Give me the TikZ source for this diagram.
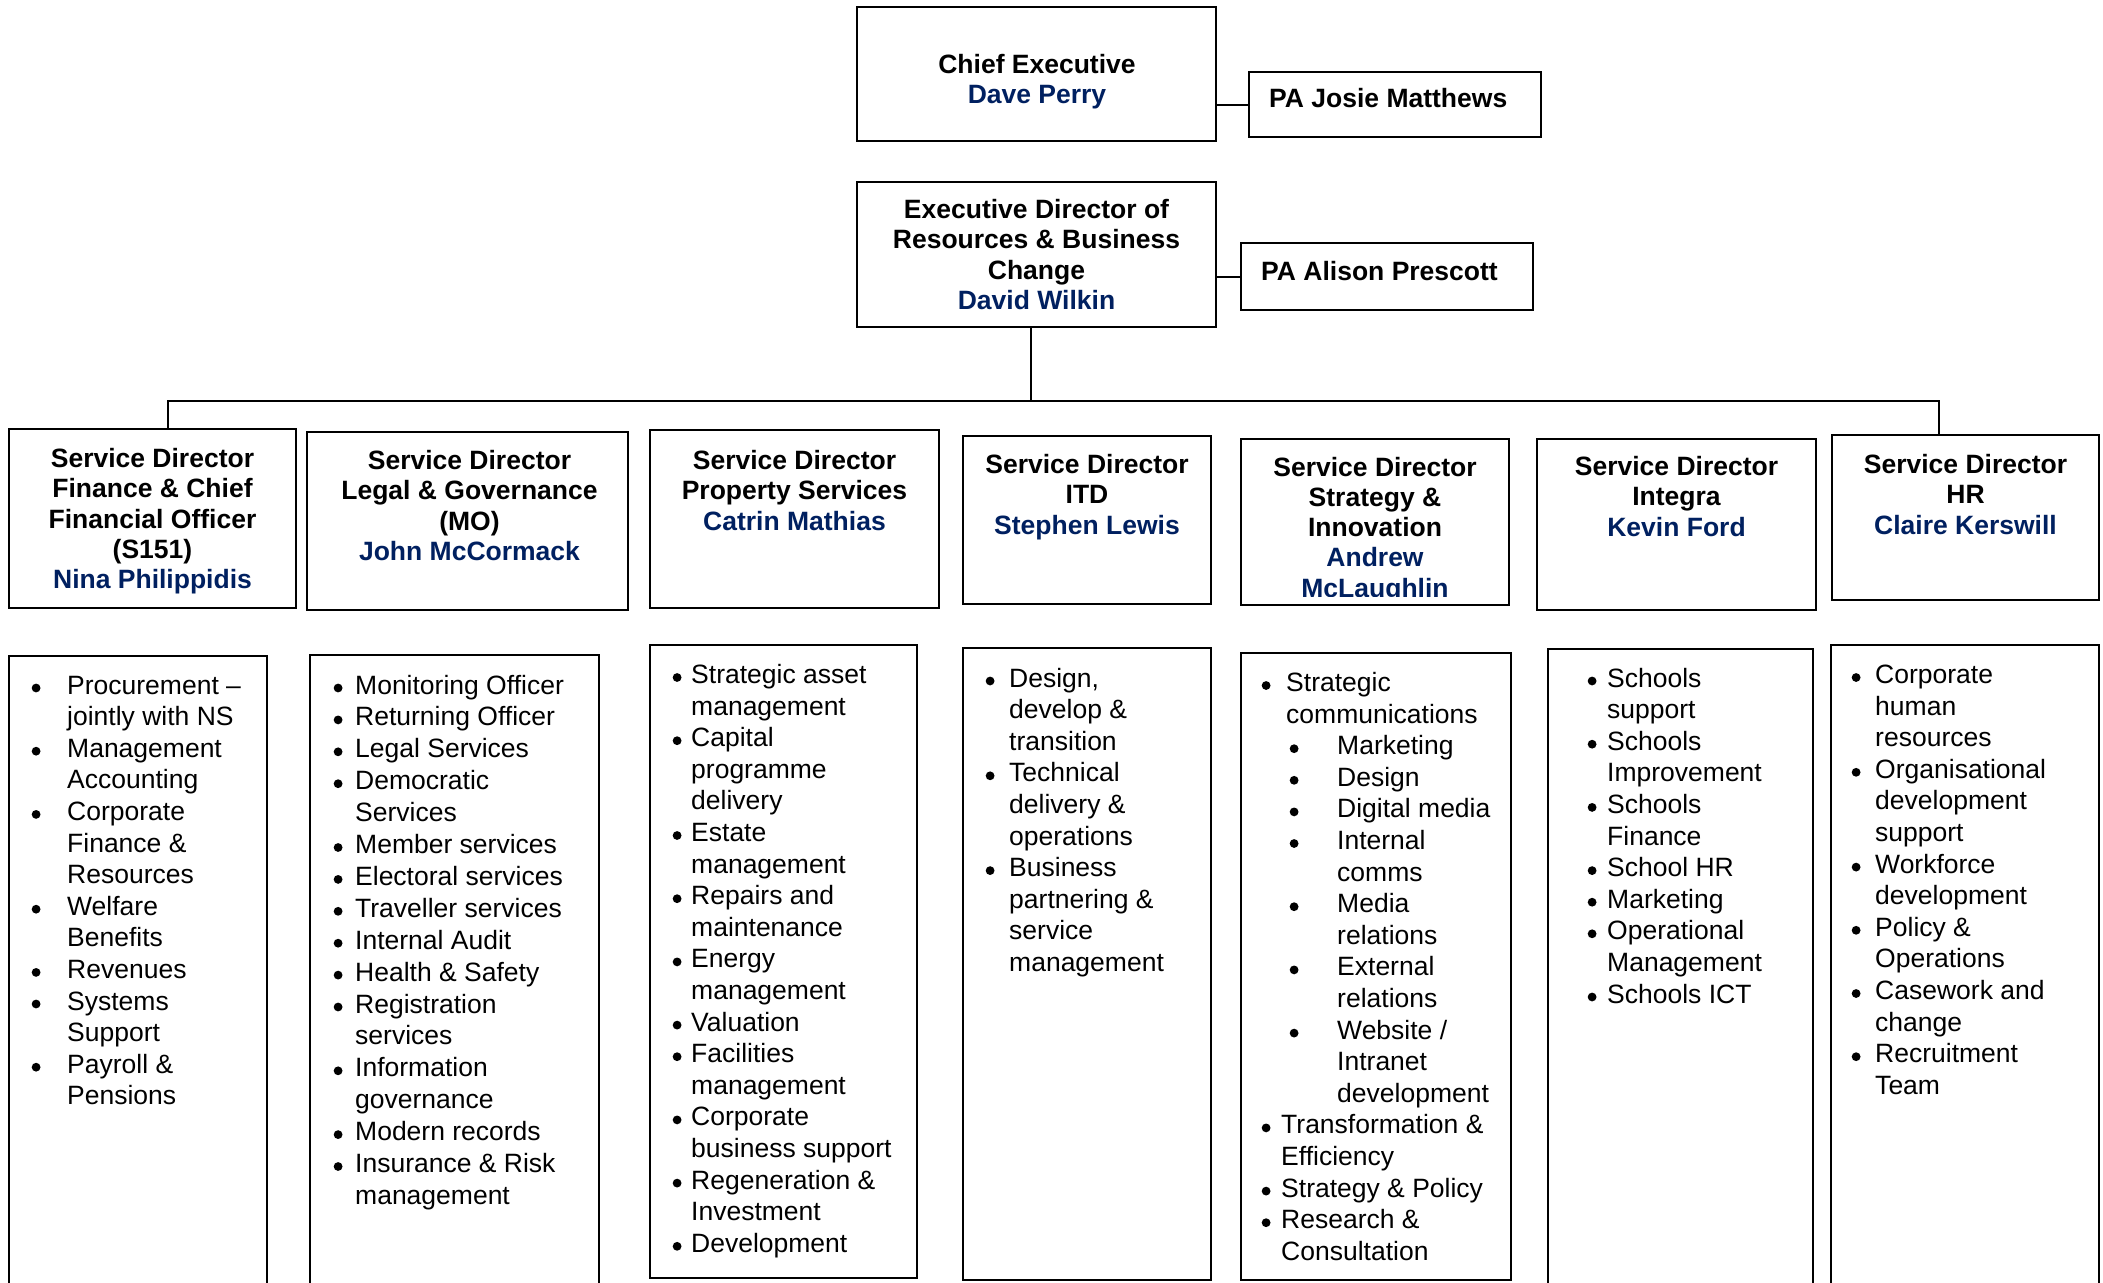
\documentclass[tikz,border=0pt]{standalone}
\usepackage{fontspec}
\setmainfont{Liberation Sans}
\usetikzlibrary{fit,calc}
\definecolor{navy}{RGB}{0,32,96}
\newcommand{\lbdot}{\tikz[baseline=0pt]\fill (0pt,6pt) circle (4.4pt);}
\newcommand{\lbul}[2]{\makebox[#1pt][l]{\lbdot}#2}
\newcommand{\lcont}[2]{\hspace*{#1pt}#2}
\newcommand{\lsub}[3]{\hspace*{#1pt}\makebox[#2pt][l]{\lbdot}#3}
\newcommand{\nm}[1]{\textcolor{navy}{#1}}
\begin{document}
\begin{tikzpicture}[x=1pt,y=-1pt,
  box/.style={draw, line width=2pt, inner sep=0pt, outer sep=0pt},
  conn/.style={line width=2pt},
  hd/.style={font=\fontsize{26.5}{30.3}\selectfont\bfseries, inner sep=0pt, anchor=base},
  li/.style={font=\fontsize{26.5}{31.6}\selectfont, inner sep=0pt, anchor=base west},
  lii/.style={font=\fontsize{26.5}{31.9}\selectfont, inner sep=0pt, anchor=base west}]
\fill[white] (0,0) rectangle (2103,1282);
\useasboundingbox (0,0) rectangle (2103,1282);

% top boxes
\node[box, fit={(857,7)(1216,141)}] (ce) {};
\node[box, fit={(1249,72)(1541,137)}] (paj) {};
\node[box, fit={(857,182)(1216,327)}] (ed) {};
\node[box, fit={(1241,243)(1533,310)}] (paa) {};

\node[hd] (ceT) at (1037,73.5) {\begin{tabular}[t]{@{}c@{}}Chief Executive\\ \nm{Dave Perry}\end{tabular}};
\node[hd, anchor=base west] (pajT) at (1269,107.5) {PA Josie Matthews};
\node[hd] (edT) at (1036.5,218.5) {\begin{tabular}[t]{@{}c@{}}Executive Director of\\ Resources \& Business\\ Change\\ \nm{David Wilkin}\end{tabular}};
\node[hd, anchor=base west] (paaT) at (1261,280.5) {PA Alison Prescott};

% service director boxes
\node[box, fit={(9,429)(296,608)}] (sd1) {};
\node[box, fit={(307,432)(628,610)}] (sd2) {};
\node[box, fit={(650,430)(939,608)}] (sd3) {};
\node[box, fit={(963,436)(1211,604)}] (sd4) {};
\node[box, fit={(1241,439)(1509,605)}] (sd5) {};
\node[box, fit={(1537,439)(1816,610)}] (sd6) {};
\node[box, fit={(1832,435)(2099,600)}] (sd7) {};

\node[hd] (sd1T) at (152.5,467.5) {\begin{tabular}[t]{@{}c@{}}Service Director\\ Finance \& Chief\\ Financial Officer\\ (S151)\\ \nm{Nina Philippidis}\end{tabular}};
\node[hd] (sd2T) at (469.5,469.5) {\begin{tabular}[t]{@{}c@{}}Service Director\\ Legal \& Governance\\ (MO)\\ \nm{John McCormack}\end{tabular}};
\node[hd] (sd3T) at (794.5,469.5) {\begin{tabular}[t]{@{}c@{}}Service Director\\ Property Services\\ \nm{Catrin Mathias}\end{tabular}};
\node[hd] (sd4T) at (1087,473.5) {\begin{tabular}[t]{@{}c@{}}Service Director\\ ITD\\ \nm{Stephen Lewis}\end{tabular}};
\begin{scope}
\clip (1243,441) rectangle (1507,596);
\node[hd] (sd5T) at (1375,476) {\begin{tabular}[t]{@{}c@{}}Service Director\\ Strategy \&\\ Innovation\\ \nm{Andrew}\\ \nm{McLaughlin}\end{tabular}};
\end{scope}
\node[hd] (sd6T) at (1676.5,475.5) {\begin{tabular}[t]{@{}c@{}}Service Director\\ Integra\\ \nm{Kevin Ford}\end{tabular}};
\node[hd] (sd7T) at (1965.5,473.5) {\begin{tabular}[t]{@{}c@{}}Service Director\\ HR\\ \nm{Claire Kerswill}\end{tabular}};

% list boxes
\node[box, fit={(9,656)(267,1300)}] (lb1) {};
\node[box, fit={(310,655)(599,1300)}] (lb2) {};
\node[box, fit={(650,645)(917,1278)}] (lb3) {};
\node[box, fit={(963,648)(1211,1280)}] (lb4) {};
\node[box, fit={(1241,653)(1511,1280)}] (lb5) {};
\node[box, fit={(1548,649)(1813,1300)}] (lb6) {};
\node[box, fit={(1831,645)(2099,1300)}] (lb7) {};

\node[li] (lt1) at (31.5,694) {\begin{tabular}[t]{@{}l@{}}
\lbul{35.5}{Procurement –}\\ \lcont{35.5}{jointly with NS}\\
\lbul{35.5}{Management}\\ \lcont{35.5}{Accounting}\\
\lbul{35.5}{Corporate}\\ \lcont{35.5}{Finance \&}\\ \lcont{35.5}{Resources}\\
\lbul{35.5}{Welfare}\\ \lcont{35.5}{Benefits}\\
\lbul{35.5}{Revenues}\\
\lbul{35.5}{Systems}\\ \lcont{35.5}{Support}\\
\lbul{35.5}{Payroll \&}\\ \lcont{35.5}{Pensions}
\end{tabular}};

\node[lii] (lt2) at (333.5,694) {\begin{tabular}[t]{@{}l@{}}
\lbul{21.5}{Monitoring Officer}\\
\lbul{21.5}{Returning Officer}\\
\lbul{21.5}{Legal Services}\\
\lbul{21.5}{Democratic}\\ \lcont{21.5}{Services}\\
\lbul{21.5}{Member services}\\
\lbul{21.5}{Electoral services}\\
\lbul{21.5}{Traveller services}\\
\lbul{21.5}{Internal Audit}\\
\lbul{21.5}{Health \& Safety}\\
\lbul{21.5}{Registration}\\ \lcont{21.5}{services}\\
\lbul{21.5}{Information}\\ \lcont{21.5}{governance}\\
\lbul{21.5}{Modern records}\\
\lbul{21.5}{Insurance \& Risk}\\ \lcont{21.5}{management}
\end{tabular}};

\node[li] (lt3) at (672.5,683.5) {\begin{tabular}[t]{@{}l@{}}
\lbul{18.5}{Strategic asset}\\ \lcont{18.5}{management}\\
\lbul{18.5}{Capital}\\ \lcont{18.5}{programme}\\ \lcont{18.5}{delivery}\\
\lbul{18.5}{Estate}\\ \lcont{18.5}{management}\\
\lbul{18.5}{Repairs and}\\ \lcont{18.5}{maintenance}\\
\lbul{18.5}{Energy}\\ \lcont{18.5}{management}\\
\lbul{18.5}{Valuation}\\
\lbul{18.5}{Facilities}\\ \lcont{18.5}{management}\\
\lbul{18.5}{Corporate}\\ \lcont{18.5}{business support}\\
\lbul{18.5}{Regeneration \&}\\ \lcont{18.5}{Investment}\\
\lbul{18.5}{Development}
\end{tabular}};

\node[li] (lt4) at (985.5,687) {\begin{tabular}[t]{@{}l@{}}
\lbul{23.5}{Design,}\\ \lcont{23.5}{develop \&}\\ \lcont{23.5}{transition}\\
\lbul{23.5}{Technical}\\ \lcont{23.5}{delivery \&}\\ \lcont{23.5}{operations}\\
\lbul{23.5}{Business}\\ \lcont{23.5}{partnering \&}\\ \lcont{23.5}{service}\\ \lcont{23.5}{management}
\end{tabular}};

\node[li] (lt5) at (1261.5,691.5) {\begin{tabular}[t]{@{}l@{}}
\lbul{24.5}{Strategic}\\ \lcont{24.5}{communications}\\
\lsub{28}{47.5}{Marketing}\\
\lsub{28}{47.5}{Design}\\
\lsub{28}{47.5}{Digital media}\\
\lsub{28}{47.5}{Internal}\\ \lcont{75.5}{comms}\\
\lsub{28}{47.5}{Media}\\ \lcont{75.5}{relations}\\
\lsub{28}{47.5}{External}\\ \lcont{75.5}{relations}\\
\lsub{28}{47.5}{Website /}\\ \lcont{75.5}{Intranet}\\ \lcont{75.5}{development}\\
\lbul{19.5}{Transformation \&}\\ \lcont{19.5}{Efficiency}\\
\lbul{19.5}{Strategy \& Policy}\\
\lbul{19.5}{Research \&}\\ \lcont{19.5}{Consultation}
\end{tabular}};

\node[li] (lt6) at (1587.5,687) {\begin{tabular}[t]{@{}l@{}}
\lbul{19.5}{Schools}\\ \lcont{19.5}{support}\\
\lbul{19.5}{Schools}\\ \lcont{19.5}{Improvement}\\
\lbul{19.5}{Schools}\\ \lcont{19.5}{Finance}\\
\lbul{19.5}{School HR}\\
\lbul{19.5}{Marketing}\\
\lbul{19.5}{Operational}\\ \lcont{19.5}{Management}\\
\lbul{19.5}{Schools ICT}
\end{tabular}};

\node[li] (lt7) at (1851.5,683.5) {\begin{tabular}[t]{@{}l@{}}
\lbul{23.5}{Corporate}\\ \lcont{23.5}{human}\\ \lcont{23.5}{resources}\\
\lbul{23.5}{Organisational}\\ \lcont{23.5}{development}\\ \lcont{23.5}{support}\\
\lbul{23.5}{Workforce}\\ \lcont{23.5}{development}\\
\lbul{23.5}{Policy \&}\\ \lcont{23.5}{Operations}\\
\lbul{23.5}{Casework and}\\ \lcont{23.5}{change}\\
\lbul{23.5}{Recruitment}\\ \lcont{23.5}{Team}
\end{tabular}};

% connectors
\coordinate (busM) at (1031,401);
\coordinate (busL) at (168,401);
\coordinate (busR) at (1939,401);
\draw[conn] (ce.east |- paj.west) -- (paj.west);
\draw[conn] (ed.east |- paa.west) -- (paa.west);
\draw[conn] (ed.south -| busM) -- (busM);
\draw[conn] (sd1.north -| busL) -- (busL) -- (busR) -- (sd7.north -| busR);
\end{tikzpicture}
\end{document}
